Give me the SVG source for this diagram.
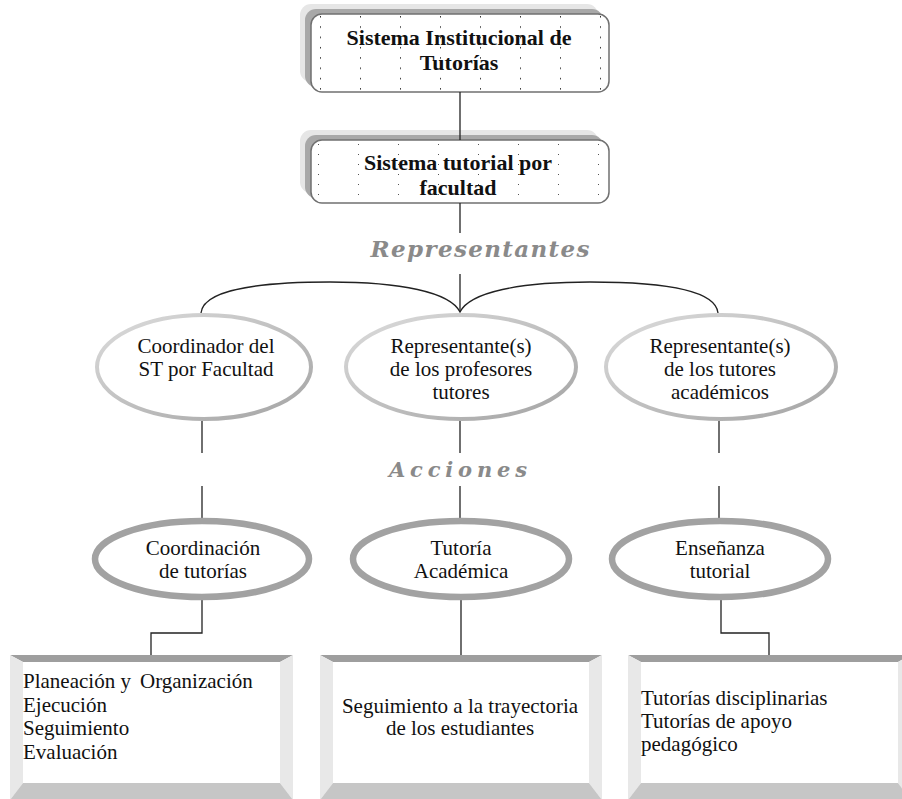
<svg xmlns="http://www.w3.org/2000/svg" width="902" height="799" viewBox="0 0 902 799">
<style>
  .title { font-family: "Liberation Serif", "DejaVu Serif", serif; font-size: 22px; font-weight: bold; fill: #111; text-anchor: middle; }
  .lbl { font-family: "Liberation Serif", "DejaVu Serif", serif; font-size: 21px; fill: #111; }
  .mid { text-anchor: middle; }
  .sec { font-family: "DejaVu Serif", "Liberation Serif", serif; font-weight: bold; font-style: italic; fill: #8a8a8a; text-anchor: middle; }
  .conn { stroke: #222; stroke-width: 1.3; fill: none; }
  .e1 { fill: #fff; stroke: url(#g1); stroke-width: 4; }
  .e2 { fill: #fff; stroke: #a2a2a2; stroke-width: 6.5; }
  .tb { fill: #9e9e9e; }
  .sb { fill: #e8e8e8; }
  .bb { fill: #c6c6c6; }
</style>
<defs>
  <linearGradient id="g1" x1="0" y1="0" x2="1" y2="1">
    <stop offset="0" stop-color="#dcdcdc"/>
    <stop offset="1" stop-color="#a4a4a4"/>
  </linearGradient>
  <pattern id="dots1" x="320" y="16" width="40" height="10.3" patternUnits="userSpaceOnUse">
    <rect x="0" y="0" width="1" height="1.5" fill="#333"/>
  </pattern>
  <pattern id="dots2" x="318" y="144" width="40" height="10" patternUnits="userSpaceOnUse">
    <rect x="0" y="0" width="1" height="1" fill="#555"/>
  </pattern>
</defs>

<g id="n-sit">
  <rect x="300" y="4" width="298" height="78" rx="11" fill="#e6e6e6"/>
  <rect x="305" y="9" width="298" height="78" rx="11" fill="#a8a8a8"/>
  <rect x="311" y="14" width="298" height="78" rx="11" fill="#fff"/>
  <rect x="311" y="14" width="298" height="78" rx="11" fill="url(#dots1)" stroke="#707070" stroke-width="1.5"/>
  <text class="title" x="459" y="45">Sistema Institucional de</text>
  <text class="title" x="459" y="70">Tutorías</text>
</g>

<g id="n-stf">
  <rect x="300" y="130" width="298" height="63" rx="11" fill="#e6e6e6"/>
  <rect x="305" y="135" width="298" height="63" rx="11" fill="#a8a8a8"/>
  <rect x="311" y="140" width="298" height="63" rx="11" fill="#fff"/>
  <rect x="311" y="140" width="298" height="63" rx="11" fill="url(#dots2)" stroke="#707070" stroke-width="1.5"/>
  <text class="title" x="458" y="170">Sistema tutorial por</text>
  <text class="title" x="458" y="195">facultad</text>
</g>

<g id="labels">
  <text class="sec" x="480" y="257" font-size="23" textLength="219" lengthAdjust="spacing">Representantes</text>
  <text class="sec" x="458" y="477" font-size="21" textLength="138" lengthAdjust="spacing">Acciones</text>
</g>

<g id="connectors">
  <line class="conn" x1="460" y1="92" x2="460" y2="140"/>
  <line class="conn" x1="460" y1="203" x2="460" y2="233"/>
  <line class="conn" x1="460" y1="274" x2="460" y2="312"/>
  <path class="conn" d="M201,313 C203,292 250,282 330,282 C400,282 450,292 460,312 C470,292 520,282 590,282 C670,282 716,292 718,313"/>
  <line class="conn" x1="202" y1="421" x2="202" y2="453"/>
  <line class="conn" x1="202" y1="486" x2="202" y2="518"/>
  <line class="conn" x1="460" y1="421" x2="460" y2="453"/>
  <line class="conn" x1="460" y1="486" x2="460" y2="518"/>
  <line class="conn" x1="719" y1="421" x2="719" y2="453"/>
  <line class="conn" x1="719" y1="486" x2="719" y2="518"/>
  <polyline class="conn" points="202,600 202,633 151,633 151,662"/>
  <line class="conn" x1="461" y1="600" x2="461" y2="662"/>
  <polyline class="conn" points="721,600 721,633 769,633 769,662"/>
</g>

<g id="n-coord">
  <ellipse class="e1" cx="204" cy="367" rx="107" ry="52"/>
  <text class="lbl mid" x="206" y="353">Coordinador del</text>
  <text class="lbl mid" x="206" y="376">ST por Facultad</text>
</g>
<g id="n-repprof">
  <ellipse class="e1" cx="461" cy="367" rx="115" ry="52"/>
  <text class="lbl mid" x="461" y="353">Representante(s)</text>
  <text class="lbl mid" x="461" y="376">de los profesores</text>
  <text class="lbl mid" x="461" y="399">tutores</text>
</g>
<g id="n-reptut">
  <ellipse class="e1" cx="721" cy="367" rx="115" ry="52"/>
  <text class="lbl mid" x="720" y="353">Representante(s)</text>
  <text class="lbl mid" x="720" y="376">de los tutores</text>
  <text class="lbl mid" x="720" y="399">académicos</text>
</g>

<g id="n-coordtut">
  <ellipse class="e2" cx="202" cy="559" rx="107" ry="38"/>
  <text class="lbl mid" x="203" y="555">Coordinación</text>
  <text class="lbl mid" x="203" y="578">de tutorías</text>
</g>
<g id="n-tutacad">
  <ellipse class="e2" cx="461" cy="559" rx="108" ry="38"/>
  <text class="lbl mid" x="461" y="555">Tutoría</text>
  <text class="lbl mid" x="461" y="578">Académica</text>
</g>
<g id="n-ensen">
  <ellipse class="e2" cx="720" cy="559" rx="108" ry="38"/>
  <text class="lbl mid" x="720" y="555">Enseñanza</text>
  <text class="lbl mid" x="720" y="578">tutorial</text>
</g>

<g id="b-left">
  <rect x="23" y="662" width="257" height="121" fill="#fff"/>
  <polygon class="tb" points="10,655 293,655 280,662 23,662"/>
  <polygon class="sb" points="10,655 23,662 23,783 10,800"/>
  <polygon class="sb" points="293,655 280,662 280,783 293,800"/>
  <polygon class="bb" points="23,783 280,783 293,800 10,800"/>
  <text class="lbl" x="23" y="688">Planeación y</text>
  <text class="lbl" x="140" y="688">Organización</text>
  <text class="lbl" x="23" y="712">Ejecución</text>
  <text class="lbl" x="23" y="735">Seguimiento</text>
  <text class="lbl" x="23" y="759">Evaluación</text>
</g>
<g id="b-mid">
  <rect x="333" y="662" width="256" height="121" fill="#fff"/>
  <polygon class="tb" points="320,655 602,655 589,662 333,662"/>
  <polygon class="sb" points="320,655 333,662 333,783 320,800"/>
  <polygon class="sb" points="602,655 589,662 589,783 602,800"/>
  <polygon class="bb" points="333,783 589,783 602,800 320,800"/>
  <text class="lbl mid" x="460" y="713">Seguimiento a la trayectoria</text>
  <text class="lbl mid" x="460" y="735">de los estudiantes</text>
</g>
<g id="b-right">
  <rect x="641" y="662" width="257" height="121" fill="#fff"/>
  <polygon class="tb" points="628,655 911,655 898,662 641,662"/>
  <polygon class="sb" points="628,655 641,662 641,783 628,800"/>
  <polygon class="sb" points="911,655 898,662 898,783 911,800"/>
  <polygon class="bb" points="641,783 898,783 911,800 628,800"/>
  <text class="lbl" x="641" y="705">Tutorías disciplinarias</text>
  <text class="lbl" x="641" y="728">Tutorías de apoyo</text>
  <text class="lbl" x="641" y="751">pedagógico</text>
</g>
</svg>
